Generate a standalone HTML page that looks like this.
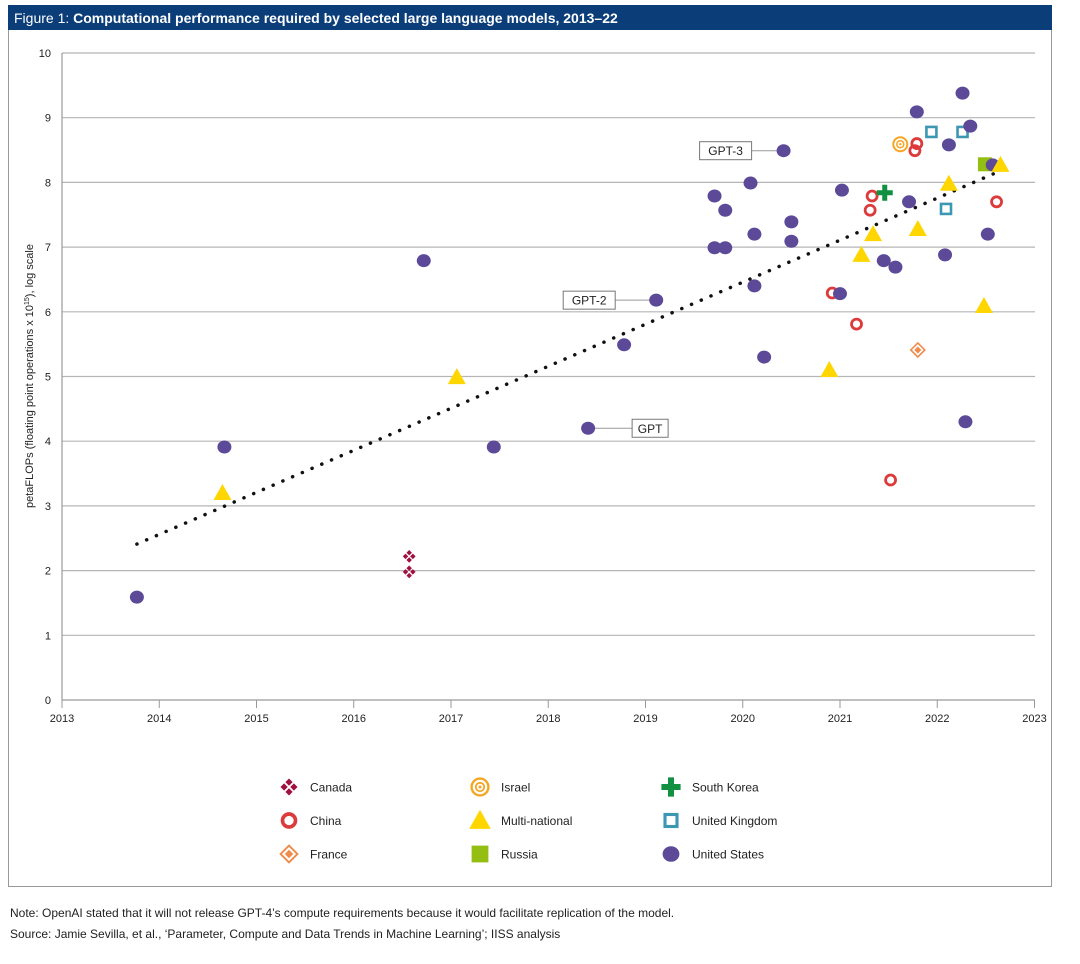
<!DOCTYPE html>
<html><head><meta charset="utf-8"><style>
body{margin:0;background:#fff;font-family:"Liberation Sans",sans-serif;}
svg{display:block}
</style></head><body>
<svg id="chart" width="1080" height="964" xmlns="http://www.w3.org/2000/svg" font-family="Liberation Sans, sans-serif">
<rect x="8.5" y="5.5" width="1043" height="881" fill="#fff" stroke="#999"/>
<rect x="8" y="5" width="1044" height="25" fill="#0b3d79"/>
<text x="14" y="23" fill="#fff" font-size="14">Figure 1: <tspan font-weight="bold">Computational performance required by selected large language models, 2013–22</tspan></text>
<g id="grid"></g><g id="axes"></g><g id="trend"></g><g id="annot"></g><g id="marks"></g>
<text transform="translate(33,376) rotate(-90)" text-anchor="middle" font-size="11" fill="#222">petaFLOPs (floating point operations x 10<tspan font-size="7" dy="-4">15</tspan><tspan dy="4">), log scale</tspan></text>
<g id="legend"></g>
<text x="10" y="917" font-size="12" fill="#222">Note: OpenAI stated that it will not release GPT-4’s compute requirements because it would facilitate replication of the model.</text>
<text x="10" y="938" font-size="12" fill="#222">Source: Jamie Sevilla, et al., ‘Parameter, Compute and Data Trends in Machine Learning’; IISS analysis</text>
</svg>
<script>
const xTicks=[2013,2014,2015,2016,2017,2018,2019,2020,2021,2022,2023];
const yTicks=[0,1,2,3,4,5,6,7,8,9,10];
const usX=[2013.77,2014.67,2016.72,2017.44,2018.41,2018.78,2019.11,2019.71,2019.71,2019.82,2019.82,2020.08,2020.12,2020.12,2020.22,2020.42,2020.50,2020.50,2021.00,2021.02,2021.45,2021.57,2021.71,2021.79,2022.08,2022.12,2022.26,2022.34,2022.52,2022.57,2022.29];
const usY=[1.59,3.91,6.79,3.91,4.20,5.49,6.18,7.79,6.99,7.57,6.99,7.99,7.20,6.40,5.30,8.49,7.39,7.09,6.28,7.88,6.79,6.69,7.70,9.09,6.88,8.58,9.38,8.87,7.20,8.27,4.30];
const multiX=[2014.65,2017.06,2020.89,2021.22,2021.34,2021.80,2022.12,2022.48,2022.65];
const multiY=[3.20,4.99,5.10,6.88,7.20,7.28,7.98,6.09,8.27];
const chinaX=[2020.92,2021.17,2021.31,2021.33,2021.52,2021.79,2021.77,2022.61];
const chinaY=[6.29,5.81,7.57,7.79,3.40,8.60,8.49,7.70];
const israelX=[2021.62], israelY=[8.59];
const koreaX=[2021.46], koreaY=[7.84];
const ukX=[2021.94,2022.26,2022.09], ukY=[8.78,8.78,7.59];
const russiaX=[2022.49], russiaY=[8.28];
const franceX=[2021.80], franceY=[5.41];
const canadaX=[2016.57,2016.57], canadaY=[2.22,1.98];
const trendX=[2013.77,2022.62], trendY=[2.41,8.16];
const labels=["GPT-3","GPT-2","GPT"];
const labelX=[2020.42,2019.11,2018.41], labelY=[8.49,6.18,4.20];
const xs=v=>62+(v-2013)*97.25, ys=v=>700-v*64.7;
const NS="http://www.w3.org/2000/svg";
function mk(p,t,a){const e=document.createElementNS(NS,t);for(const k in a)e.setAttribute(k,a[k]);document.getElementById(p)?document.getElementById(p).appendChild(e):p.appendChild(e);return e;}
yTicks.forEach(v=>{
 if(v>0){const l=mk('grid','line',{x1:62,x2:1035,y1:ys(v),y2:ys(v),stroke:'#b5b5b5','stroke-width':1.2});
 
 }
 const t=mk('axes','text',{x:51,y:ys(v)+4,'text-anchor':'end','font-size':11,fill:'#222'});t.textContent=v;
 
 
});
const ax=mk('axes','path',{d:`M62,${ys(10)}V700H1035`,fill:'none',stroke:'#999','stroke-width':1.2});


xTicks.forEach(v=>{
 const l=mk('axes','line',{x1:xs(v),x2:xs(v),y1:700,y2:708,stroke:'#999'});
 
 
 const t=mk('axes','text',{x:xs(v),y:722,'text-anchor':'middle','font-size':11,fill:'#222'});t.textContent=v;
 
 
});
const tr=mk('trend','line',{x1:xs(trendX[0]),y1:ys(trendY[0]),x2:xs(trendX[1]),y2:ys(trendY[1]),stroke:'#111','stroke-width':3.5,'stroke-linecap':'round','stroke-dasharray':'0.1 10.5'});


const boxOff=[[-84,-10],[-93,-10],[44,-10]];
labels.forEach((s,i)=>{
 const px=xs(labelX[i]),py=ys(labelY[i]);
 const w=s.length*8+12;
 let bx=px+boxOff[i][0], lx1,lx2;
 if(boxOff[i][0]<0){lx1=bx+w;lx2=px;}else{lx1=px;lx2=bx;}
 const g=mk('annot','g',{});
 
 
 mk(g,'line',{x1:lx1,x2:lx2,y1:py,y2:py,stroke:'#999'});
 mk(g,'rect',{x:bx,y:py-9,width:w,height:18,fill:'#fff',stroke:'#777'});
 const t=mk(g,'text',{x:bx+w/2,y:py+4.5,'text-anchor':'middle','font-size':12,fill:'#222'});t.textContent=s;
});
function shape(g,type,x,y,s){
 s=s||1;
 if(type==='us')mk(g,'ellipse',{cx:x,cy:y,rx:7*s,ry:6.5*s,fill:'#5c4a98'});
 else if(type==='multi')mk(g,'path',{d:`M${x},${y-9*s}L${x+9*s},${y+7*s}L${x-9*s},${y+7*s}Z`,fill:'#ffd600'});
 else if(type==='china')mk(g,'circle',{cx:x,cy:y,r:5*s,fill:'none',stroke:'#dd3b3b','stroke-width':2.8*s});
 else if(type==='israel'){mk(g,'circle',{cx:x,cy:y,r:7*s,fill:'none',stroke:'#f5a623','stroke-width':2*s});mk(g,'circle',{cx:x,cy:y,r:3.5*s,fill:'none',stroke:'#f5a623','stroke-width':1.5*s});mk(g,'circle',{cx:x,cy:y,r:1.2*s,fill:'#f5a623'});}
 else if(type==='korea')mk(g,'path',{d:`M${x-2.5*s},${y-8*s}h${5*s}v${5.5*s}h${5.5*s}v${5*s}h${-5.5*s}v${5.5*s}h${-5*s}v${-5.5*s}h${-5.5*s}v${-5*s}h${5.5*s}Z`,fill:'#109040'});
 else if(type==='uk')mk(g,'rect',{x:x-5*s,y:y-5*s,width:10*s,height:10*s,fill:'#fff',stroke:'#3c97b3','stroke-width':2.6*s});
 else if(type==='russia')mk(g,'rect',{x:x-7*s,y:y-7*s,width:14*s,height:14*s,fill:'#94bf12'});
 else if(type==='france'){mk(g,'path',{d:`M${x},${y-7*s}L${x+7*s},${y}L${x},${y+7*s}L${x-7*s},${y}Z`,fill:'#fff',stroke:'#ef8a4a','stroke-width':1.6*s});mk(g,'path',{d:`M${x},${y-3.5*s}L${x+3.5*s},${y}L${x},${y+3.5*s}L${x-3.5*s},${y}Z`,fill:'#ef8a4a'});}
 else if(type==='canada'){[[0,-3.5],[3.5,0],[0,3.5],[-3.5,0]].forEach(o=>{const cx=x+o[0]*s,cy=y+o[1]*s;mk(g,'path',{d:`M${cx},${cy-2.6*s}L${cx+2.6*s},${cy}L${cx},${cy+2.6*s}L${cx-2.6*s},${cy}Z`,fill:'#a01040'});});}
}
const series=[['canada',canadaX,canadaY],['france',franceX,franceY],['china',chinaX,chinaY],['israel',israelX,israelY],['uk',ukX,ukY],['russia',russiaX,russiaY],['us',usX,usY],['korea',koreaX,koreaY],['multi',multiX,multiY]];
series.forEach(([type,X,Y])=>{
 X.forEach((v,i)=>{
  const g=mk('marks','g',{});
  
  
  shape(g,type,xs(v),ys(Y[i]),type==='canada'?1.05:1);
 });
});
const legNames=[['canada','Canada'],['china','China'],['france','France'],['israel','Israel'],['multi','Multi-national'],['russia','Russia'],['korea','South Korea'],['uk','United Kingdom'],['us','United States']];
legNames.forEach(([type,name],i)=>{
 const col=Math.floor(i/3),row=i%3;
 const x=289+col*191,y=787+row*33.5;
 const g=mk('legend','g',{});
 
 
 shape(g,type,x,y,type==='canada'?1.4:(type==='china'?1.3:1.2));
 const t=mk(g,'text',{x:x+21,y:y+4.5,'font-size':12,fill:'#222'});t.textContent=name;
});
</script>
</body></html>
